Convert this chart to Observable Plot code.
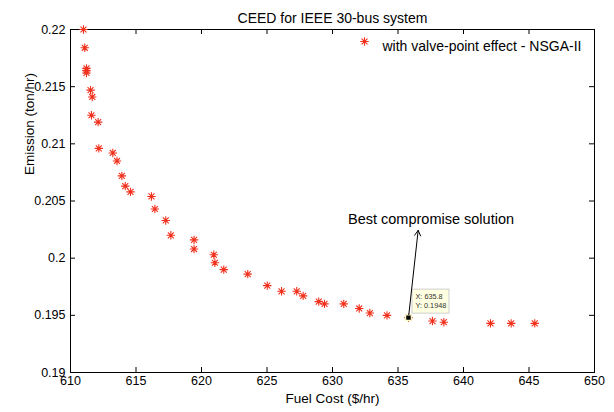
<!DOCTYPE html>
<html><head><meta charset="utf-8">
<script src="https://cdn.jsdelivr.net/npm/d3@7"></script>
<script src="https://cdn.jsdelivr.net/npm/@observablehq/plot@0.6"></script>
<style>body{margin:0;background:#fff}#chart svg{display:block}</style>
</head><body><div id="chart"></div>
<script>
// Pareto front: with valve-point effect - NSGA-II
const fuelCost = [610.99, 611.09, 611.22, 611.22, 611.22, 611.53, 611.66, 611.60, 612.11, 612.16,
  613.23, 613.55, 613.92, 614.18, 614.58, 616.18, 616.44, 617.27, 617.66, 619.43,
  619.43, 620.94, 621.02, 621.70, 623.53, 625.02, 626.11, 627.27, 627.76, 628.95,
  629.39, 630.86, 632.04, 632.85, 634.16, 635.8, 637.63, 638.50, 642.06, 643.64, 645.44];
const emission = [0.2200, 0.2184, 0.2166, 0.2164, 0.2162, 0.2147, 0.2141, 0.2125, 0.2119, 0.2096,
  0.2092, 0.2085, 0.2072, 0.2063, 0.2058, 0.2054, 0.2043, 0.2033, 0.2020, 0.2016,
  0.2008, 0.2003, 0.1996, 0.1990, 0.1986, 0.1976, 0.1971, 0.1971, 0.1967, 0.1962,
  0.1960, 0.1960, 0.1956, 0.1952, 0.1950, 0.1948, 0.1945, 0.1944, 0.1943, 0.1943, 0.1943];
const xTicks = [610, 615, 620, 625, 630, 635, 640, 645, 650];
const yTicks = [0.19, 0.195, 0.2, 0.205, 0.21, 0.215, 0.22];
const titleText = "CEED for IEEE 30-bus system";
const xLabel = "Fuel Cost ($/hr)";
const yLabel = "Emission (ton/hr)";
const seriesName = "with valve-point effect - NSGA-II";
const bestX = [635.8];
const bestY = [0.1948];
const tipLines = ["X: 635.8", "Y: 0.1948"];
const annotationText = ["Best compromise solution"];
const annotationX = [637.52];
const annotationY = [0.20339];
const arrowTipX = [636.54];
const arrowTipY = [0.20243];

const points = fuelCost.map((x, i) => ({x, y: emission[i]}));
const best = bestX.map((x, i) => ({x, y: bestY[i]}));

const W = 614, H = 412, mL = 70, mR = 20, mT = 29, mB = 40;
const pw = W - mL - mR, ph = H - mT - mB;
const red = "#f0301c";
const font = "Liberation Sans, Arial, Helvetica, sans-serif";

const asterisk = {
  draw(ctx, size) {
    const r = Math.sqrt(size / Math.PI), d = r * Math.SQRT1_2;
    ctx.moveTo(-r, 0); ctx.lineTo(r, 0);
    ctx.moveTo(0, -r); ctx.lineTo(0, r);
    ctx.moveTo(-d, -d); ctx.lineTo(d, d);
    ctx.moveTo(-d, d); ctx.lineTo(d, -d);
  }
};

const chart = Plot.plot({
  width: W, height: H,
  marginLeft: mL, marginRight: mR, marginTop: mT, marginBottom: mB,
  style: {fontFamily: font, color: "#000", background: "#fff"},
  x: {domain: [610, 650]},
  y: {domain: [0.19, 0.22]},
  marks: [
    Plot.frame({stroke: "#000", strokeWidth: 1}),
    Plot.tickX(xTicks, {x: d => d, insetTop: ph - 5, stroke: "#000"}),
    Plot.tickX(xTicks, {x: d => d, insetBottom: ph - 5, stroke: "#000"}),
    Plot.tickY(yTicks, {y: d => d, insetRight: pw - 5, stroke: "#000"}),
    Plot.tickY(yTicks, {y: d => d, insetLeft: pw - 5, stroke: "#000"}),
    Plot.axisX({ticks: xTicks, tickSize: 0, tickPadding: 4, label: null, fontSize: 12.5, tickFormat: d => String(d)}),
    Plot.axisY({ticks: yTicks, tickSize: 0, tickPadding: 5, label: null, fontSize: 12.5, tickFormat: d => String(+d.toFixed(3))}),
    Plot.dot(points, {x: "x", y: "y", symbol: asterisk, r: 4.2, fill: "none", stroke: red, strokeWidth: 1.1}),
    // datatip box
    Plot.rect(best, {x1: "x", x2: "x", y1: "y", y2: "y", insetLeft: 4, insetRight: -41, insetTop: -28, insetBottom: 4,
      fill: "#ffffe1", stroke: "#cfcfcf", strokeWidth: 1}),
    Plot.text(best, {x: "x", y: "y", text: () => tipLines[0], dx: 7, dy: -21, textAnchor: "start", fontSize: 7.3, fill: "#333"}),
    Plot.text(best, {x: "x", y: "y", text: () => tipLines[1], dx: 7, dy: -12, textAnchor: "start", fontSize: 7.3, fill: "#333"}),
    Plot.dot(best, {x: "x", y: "y", symbol: "square", r: 3.2, fill: "#000", stroke: "#ffffc8", strokeWidth: 1.2}),
    // annotation arrow
    Plot.arrow(best, {x1: "x", y1: "y", x2: () => arrowTipX[0], y2: () => arrowTipY[0], stroke: "#000", strokeWidth: 1, headLength: 9, insetStart: 3}),
    Plot.text(annotationText, {x: () => annotationX[0], y: () => annotationY[0], text: d => d, fontSize: 14.5, fill: "#000"}),
    // legend
    Plot.dot([seriesName], {frameAnchor: "top-right", dx: -230, dy: 12, symbol: asterisk, r: 4.2, fill: "none", stroke: red, strokeWidth: 1.1}),
    Plot.text([seriesName], {frameAnchor: "top-right", dx: -212, dy: 12, text: d => d, textAnchor: "start", fontSize: 14, fill: "#000"}),
    // title & axis labels
    Plot.text([titleText], {frameAnchor: "top", dy: -16, text: d => d, fontSize: 14, fill: "#000"}),
    Plot.text([xLabel], {frameAnchor: "bottom", dy: 30, text: d => d, fontSize: 13.5, fill: "#000"}),
    Plot.text([yLabel], {frameAnchor: "left", dx: -41, dy: -26, rotate: -90, text: d => d, fontSize: 13.5, fill: "#000"})
  ]
});
document.getElementById("chart").appendChild(chart);
</script>
</body></html>
